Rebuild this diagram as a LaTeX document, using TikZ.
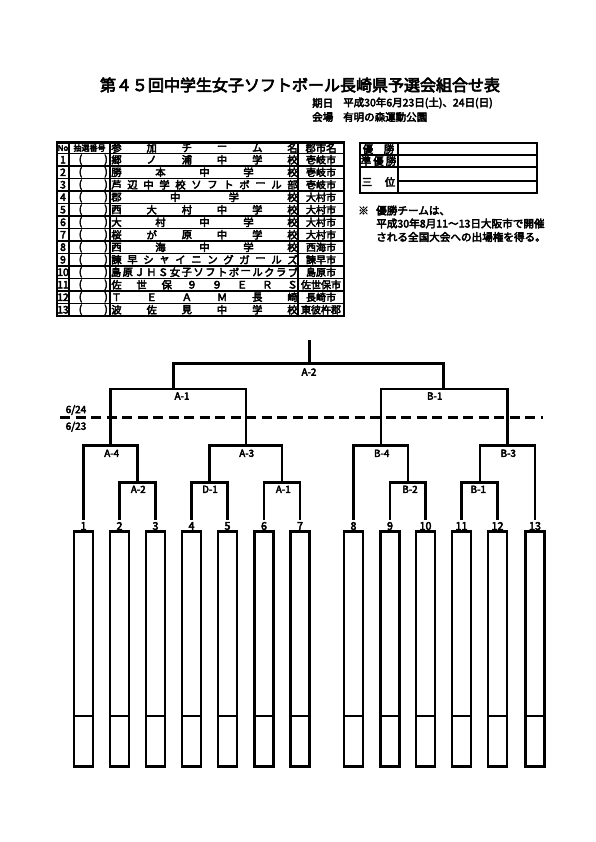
\documentclass[tikz,border=0pt]{standalone}
\usepackage{fontspec}
\setmainfont{Noto Sans CJK JP}[FakeBold=4]
\newcommand\spreadrow[5]{% #1 y, #2 x-first, #3 x-last, #4 count, #5 list
  \foreach \ch [count=\i] in {#5}{\node[txt] at ({#2+(\i-1)*(#3-#2)/(#4-1)},#1) {\ch};}}
\begin{document}
\begin{tikzpicture}[x=1pt,y=-1pt,
  txt/.style={inner sep=0pt,font=\fontsize{10.3}{10}\selectfont},
  small/.style={inner sep=0pt,font=\fontsize{8}{8}\selectfont},
  sub/.style={inner sep=0pt,anchor=west,font=\fontsize{10.5}{10}\selectfont},
  note/.style={inner sep=0pt,anchor=west,font=\fontsize{10.6}{11}\selectfont},
  lab/.style={inner sep=0pt,font=\fontsize{9.8}{10}\selectfont},
  br/.style={line width=2.1pt},
  tbl/.style={line width=1.6pt},
  tblo/.style={line width=2.3pt},
  ebox/.style={line width=2.1pt}]
\useasboundingbox[fill=white] (0,0) rectangle (595,842);

% title
\node[inner sep=0pt,font=\fontsize{16}{16}\selectfont] (title) at (300,85) {第４５回中学生女子ソフトボール長崎県予選会組合せ表};
\node[sub] (kijitsu) at (312,103) {期日};
\node[sub] (date) at (343,103) {平成30年6月23日(土)、24日(日)};
\node[sub] (kaijo) at (312,117) {会場};
\node[sub] (venue) at (343,117) {有明の森運動公園};

% entry table
\foreach \i in {0,...,12}{\draw[tbl] (57,{153.5+12.5*\i}) -- (344,{153.5+12.5*\i});}
\foreach \x in {69,110,298}{\draw[tbl] (\x,142.5) -- (\x,316);}
\draw[tblo] (57,142.5) rectangle (344,316);
\node[small] (hno) at (63,148) {No};
\node[small] (hlot) at (89.5,148) {抽選番号};
\spreadrow{148}{116.5}{292.5}{6}{参,加,チ,ー,ム,名}
\node[txt] (harea) at (321,148) {郡市名};

\foreach \n/\area in {1/壱岐市,2/壱岐市,3/壱岐市,4/大村市,5/大村市,6/大村市,7/大村市,8/西海市,9/諫早市,10/島原市,11/佐世保市,12/長崎市,13/東彼杵郡}{
  \node[txt] (no\n) at (63,{147.25+12.5*\n}) {\n};
  \node[txt] (lo\n) at (80.5,{147.25+12.5*\n}) {(};
  \node[txt] (lc\n) at (106,{147.25+12.5*\n}) {)};
  \node[txt,font=\fontsize{10}{10}\selectfont] (ar\n) at (321,{147.25+12.5*\n}) {\area};
}
\spreadrow{159.75}{116.5}{292.5}{6}{郷,ノ,浦,中,学,校}
\spreadrow{172.25}{116.5}{292.5}{5}{勝,本,中,学,校}
\spreadrow{184.75}{116.5}{292.5}{12}{芦,辺,中,学,校,ソ,フ,ト,ボ,ー,ル,部}
\spreadrow{197.25}{116.5}{292.5}{4}{郡,中,学,校}
\spreadrow{209.75}{116.5}{292.5}{6}{西,大,村,中,学,校}
\spreadrow{222.25}{116.5}{292.5}{5}{大,村,中,学,校}
\spreadrow{234.75}{116.5}{292.5}{6}{桜,が,原,中,学,校}
\spreadrow{247.25}{116.5}{292.5}{5}{西,海,中,学,校}
\spreadrow{259.75}{116.5}{292.5}{12}{諫,早,シ,ャ,イ,ニ,ン,グ,ガ,ー,ル,ズ}
\spreadrow{272.25}{116}{293}{16}{島,原,Ｊ,Ｈ,Ｓ,女,子,ソ,フ,ト,ボ,ー,ル,ク,ラ,ブ}
\spreadrow{284.75}{116.5}{292.5}{8}{佐,世,保,９,９,Ｅ,Ｒ,Ｓ}
\spreadrow{297.25}{116.5}{292.5}{6}{Ｔ,Ｅ,Ａ,Ｍ,長,崎}
\spreadrow{309.75}{116.5}{292.5}{6}{波,佐,見,中,学,校}

% results box
\draw[tbl] (360,155) -- (537,155);
\draw[tbl] (360,167) -- (537,167);
\draw[tbl] (398,181) -- (537,181);
\draw[tbl] (398,143) -- (398,193);
\draw[tblo] (360,143) rectangle (537,193);
\spreadrow{149}{368}{389}{2}{優,勝}
\spreadrow{161}{366}{391}{3}{準,優,勝}
\spreadrow{182}{367}{390}{2}{三,位}

% note
\node[note] (mark) at (358,210.5) {※};
\node[note] (n1) at (376,210.5) {優勝チームは、};
\node[note] (n2) at (376,223.5) {平成30年8月11～13日大阪市で開催};
\node[note] (n3) at (376,237) {される全国大会への出場権を得る。};

% bracket
\foreach \n/\x in {1/83.5,2/119.5,3/155.5,4/191.5,5/227.5,6/264,7/300,8/353.5,9/390,10/425.5,11/461.5,12/497.5,13/535}{
  \coordinate (L\n) at (\x,520);
  \node[inner sep=0pt,font=\fontsize{10.8}{10}\selectfont] (num\n) at (\x,526) {\n};
  \draw[ebox] (\x-9.5,531.5) rectangle (\x+9.5,766.5);
  \draw[ebox] (\x-9.5,716) -- (\x+9.5,716);
}
\coordinate (r1) at (137.5,482.5);
\coordinate (r2) at (209.5,482.5);
\coordinate (r3) at (282,482.5);
\coordinate (r4) at (408,482.5);
\coordinate (r5) at (479.75,482.5);
\draw[br] (L2) |- (r1) -| (L3);
\draw[br] (L4) |- (r2) -| (L5);
\draw[br] (L6) |- (r3) -| (L7);
\draw[br] (L9) |- (r4) -| (L10);
\draw[br] (L11) |- (r5) -| (L12);
\coordinate (q1) at (110.5,445.5);
\coordinate (q2) at (246,445.5);
\coordinate (q3) at (381,445.5);
\coordinate (q4) at (507.5,445.5);
\draw[br] (L1) |- (q1) -| (r1);
\draw[br] (r2) |- (q2) -| (r3);
\draw[br] (L8) |- (q3) -| (r4);
\draw[br] (r5) |- (q4) -| (L13);
\coordinate (s1) at (173.5,389);
\coordinate (s2) at (443.5,389);
\draw[br] (q1) |- (s1) -| (q2);
\draw[br] (q3) |- (s2) -| (q4);
\coordinate (fin) at (309.5,363.5);
\coordinate (top) at (309.5,340);
\draw[br] (s1) |- (fin) -| (s2);
\draw[br] (fin) -- (top);

% game labels
\node[lab] (gfin) at (309,372) {A-2};
\node[lab] (gs1) at (182,396) {A-1};
\node[lab] (gs2) at (434.7,396) {B-1};
\node[lab] (gq1) at (111.7,453.3) {A-4};
\node[lab] (gq2) at (246.7,453.3) {A-3};
\node[lab] (gq3) at (381.7,453.3) {B-4};
\node[lab] (gq4) at (508.3,453.3) {B-3};
\node[lab] (gr1) at (138.3,489.3) {A-2};
\node[lab] (gr2) at (210,489.3) {D-1};
\node[lab] (gr3) at (283.3,489.3) {A-1};
\node[lab] (gr4) at (410,489.3) {B-2};
\node[lab] (gr5) at (478.3,489.3) {B-1};

% day divider
\coordinate (dl) at (60,417.5);
\coordinate (dr) at (543,417.5);
\draw[line width=2.6pt,dash pattern=on 10pt off 5.5pt] (dl) -- (dr);
\node[lab,font=\fontsize{10}{10}\selectfont] (d24) at (76,410) {6/24};
\node[lab,font=\fontsize{10}{10}\selectfont] (d23) at (76,426.7) {6/23};
\end{tikzpicture}
\end{document}
